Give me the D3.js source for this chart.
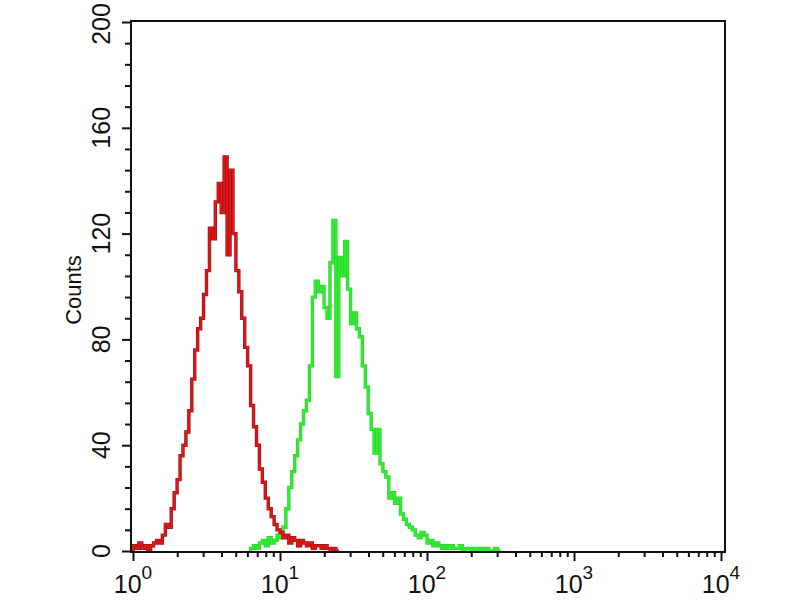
<!DOCTYPE html>
<html>
<head>
<meta charset="utf-8">
<script src="https://cdn.jsdelivr.net/npm/d3@7"></script>
<style>
  body { margin: 0; background: #fff; }
  svg { display: block; font-family: "Liberation Sans", Arial, sans-serif; }
</style>
</head>
<body>
<svg id="chart" width="800" height="600"></svg>
<script>
// histogram channels, log10 bin width 0.02
const binWidth = 0.02;

// red population, bins start at log10 = 0.00
const redStart = 0.0;
const redCounts = [
  2, 1, 3, 1, 2, 0, 2, 3, 4, 3,
  6, 10, 9, 16, 22, 27, 36, 40, 45, 53,
  65, 76, 84, 88, 97, 106, 122, 118, 132, 139,
  128, 149, 112, 144, 120, 106, 98, 88, 77, 70,
  55, 47, 40, 31, 26, 20, 16, 13, 10, 8,
  7, 5, 6, 3, 5, 4, 2, 4, 3, 2,
  3, 1, 2, 2, 1, 2, 1, 0, 1, 0
];

// green population, bins start at log10 = 0.80
const greenStart = 0.8;
const greenCounts = [
  1, 2, 1, 3, 4, 2, 5, 3, 4, 6,
  5, 9, 16, 24, 30, 36, 42, 48, 53, 57,
  70, 96, 102, 98, 100, 92, 88, 109, 125, 66,
  111, 104, 117, 99, 86, 90, 84, 81, 70, 62,
  52, 46, 37, 46, 33, 30, 28, 20, 22, 18,
  20, 14, 12, 10, 9, 8, 6, 5, 7, 6,
  3, 4, 2, 3, 2, 1, 2, 1, 2, 1,
  1, 2, 0, 1, 1, 0, 1, 0, 1, 0,
  1, 0, 0, 1, 0
];

const yMajor = [0, 40, 80, 120, 160, 200];
const xDecades = [0, 1, 2, 3, 4];

const svg = d3.select('#chart');

const x = d3.scaleLog().domain([1, 10000]).range([133, 721]);
const y = d3.scaleLinear().domain([0, 200]).range([551, 22]);

const boxLeft = 131, boxRight = 725, boxTop = 21, boxBottom = 552;

// turn counts into step points
function toPoints(start, counts) {
  const pts = [[Math.pow(10, start), 0]];
  counts.forEach((c, i) => {
    pts.push([Math.pow(10, start + i * binWidth), c]);
  });
  pts.push([Math.pow(10, start + counts.length * binWidth), 0]);
  return pts;
}

const line = d3.line()
  .x(d => x(d[0]))
  .y(d => y(d[1]))
  .curve(d3.curveStepAfter);

function drawHist(start, counts, edge, fillCol) {
  const pts = toPoints(start, counts);
  svg.append('path')
    .datum(pts)
    .attr('d', line)
    .attr('fill', 'none')
    .attr('stroke', edge)
    .attr('stroke-width', 3.4);
  svg.append('path')
    .datum(pts)
    .attr('d', line)
    .attr('fill', 'none')
    .attr('stroke', fillCol)
    .attr('stroke-width', 2);
}

drawHist(greenStart, greenCounts, '#3cc83c', '#2cf02c');
drawHist(redStart, redCounts, '#8e1a1a', '#e81414');

// frame
svg.append('path')
  .attr('d', `M${boxLeft},${boxBottom} L${boxLeft},${boxTop} L${boxRight},${boxTop} L${boxRight},${boxBottom} Z`)
  .attr('fill', 'none')
  .attr('stroke', '#111')
  .attr('stroke-width', 2);

// y axis: minor ticks every 8
const yMinor = d3.range(0, 201, 8).filter(v => !yMajor.includes(v));
const yAxisG = svg.append('g').attr('transform', `translate(${boxLeft},0)`);
yAxisG.call(d3.axisLeft(y).tickValues(yMinor).tickSize(6).tickFormat(''))
  .call(g => g.select('.domain').remove());
yAxisG.append('g')
  .call(d3.axisLeft(y).tickValues(yMajor).tickSize(9).tickFormat(''))
  .call(g => g.select('.domain').remove());
yAxisG.selectAll('line').attr('stroke', '#111').attr('stroke-width', 2);

svg.append('g').selectAll('text')
  .data(yMajor)
  .join('text')
  .attr('transform', d => `translate(110,${Math.max(y(d), 24)}) rotate(-90)`)
  .attr('text-anchor', 'middle')
  .attr('font-size', 25)
  .attr('fill', '#111')
  .text(d => d);

svg.append('text')
  .attr('transform', 'translate(81,290) rotate(-90)')
  .attr('text-anchor', 'middle')
  .attr('font-size', 22)
  .attr('fill', '#111')
  .text('Counts');

// x axis: log minor ticks
const xMinor = [];
xDecades.slice(0, -1).forEach(k => {
  for (let m = 2; m <= 9; m++) xMinor.push(m * Math.pow(10, k));
});
const xMajorVals = xDecades.map(k => Math.pow(10, k));
const xAxisG = svg.append('g').attr('transform', `translate(0,${boxBottom})`);
xAxisG.call(d3.axisBottom(x).tickValues(xMinor).tickSize(5).tickFormat(''))
  .call(g => g.select('.domain').remove());
xAxisG.append('g')
  .call(d3.axisBottom(x).tickValues(xMajorVals).tickSize(9).tickFormat(''))
  .call(g => g.select('.domain').remove());
xAxisG.selectAll('line').attr('stroke', '#111').attr('stroke-width', 2);

const xLabels = svg.append('g').selectAll('text')
  .data(xDecades)
  .join('text')
  .attr('x', d => x(Math.pow(10, d)))
  .attr('y', 593)
  .attr('text-anchor', 'middle')
  .attr('font-size', 25)
  .attr('fill', '#111');
xLabels.append('tspan').text('10');
xLabels.append('tspan')
  .attr('dy', -14)
  .attr('font-size', 19)
  .text(d => d);
</script>
</body>
</html>
